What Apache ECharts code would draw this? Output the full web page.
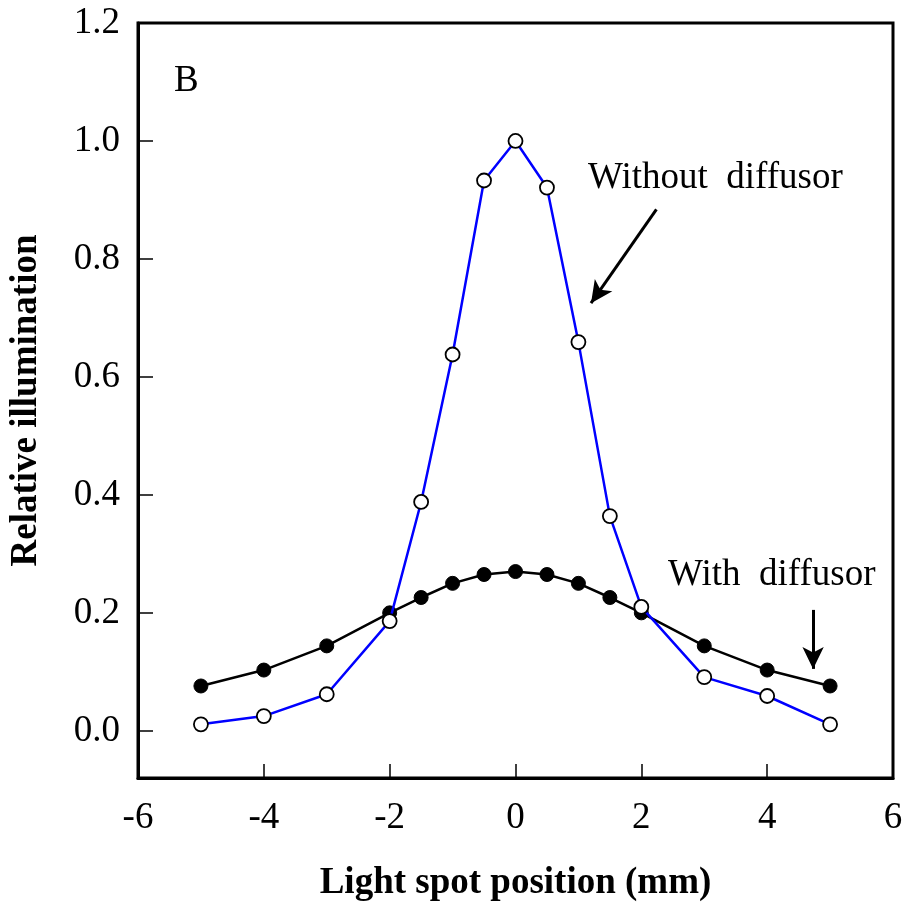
<!DOCTYPE html>
<html><head><meta charset="utf-8">
<script src="https://cdn.jsdelivr.net/npm/echarts@6/dist/echarts.min.js"></script>
<style>html,body{margin:0;padding:0;background:#fff}#c{width:908px;height:909px}</style>
</head><body><div id="c"></div>
<script>
const positions = [-5, -4, -3, -2, -1.5, -1, -0.5, 0, 0.5, 1, 1.5, 2, 3, 4, 5];
const withoutDiffusor = [0.011, 0.025, 0.062, 0.186, 0.388, 0.638, 0.933, 1.0, 0.921, 0.659, 0.364, 0.21, 0.091, 0.059, 0.011];
const withDiffusor = [0.076, 0.103, 0.144, 0.2, 0.226, 0.25, 0.265, 0.27, 0.265, 0.25, 0.226, 0.2, 0.144, 0.103, 0.076];
const yTicks = [0, 0.2, 0.4, 0.6, 0.8, 1.0, 1.2];
const xTitle = 'Light spot position (mm)';
const yTitle = 'Relative illumination';

const font = '"Liberation Serif", "Times New Roman", serif';
const chart = echarts.init(document.getElementById('c'));
const pair = (xs, ys) => xs.map((x, i) => [x, ys[i]]);

chart.setOption({
  animation: false,
  backgroundColor: '#fff',
  grid: { left: 135, right: 15, top: 23, bottom: 131, show: true, borderColor: '#000', borderWidth: 3 },
  xAxis: {
    type: 'value', min: -6, max: 6, interval: 2,
    name: xTitle, nameLocation: 'middle', nameGap: 87,
    nameTextStyle: { fontFamily: font, fontSize: 37, fontWeight: 'bold', color: '#000' },
    axisLine: { onZero: false, lineStyle: { color: '#000', width: 3 } },
    axisTick: { inside: true, length: 14, lineStyle: { color: '#000', width: 1.5 } },
    axisLabel: { fontFamily: font, fontSize: 37, color: '#000', margin: 22 },
    splitLine: { show: false }
  },
  yAxis: {
    type: 'value', min: -0.08, max: 1.2,
    name: yTitle, nameLocation: 'middle', nameGap: 93,
    nameTextStyle: { fontFamily: font, fontSize: 37, fontWeight: 'bold', color: '#000' },
    axisLine: { onZero: false, lineStyle: { color: '#000', width: 3 } },
    axisTick: { inside: true, length: 15, customValues: yTicks, lineStyle: { color: '#000', width: 1.5 } },
    axisLabel: { fontFamily: font, fontSize: 37, color: '#000', margin: 18, customValues: yTicks,
      formatter: v => v.toFixed(1) },
    splitLine: { show: false }
  },
  series: [
    {
      type: 'line', data: pair(positions, withDiffusor),
      symbol: 'circle', symbolSize: 14,
      lineStyle: { color: '#000', width: 2.5 },
      itemStyle: { color: '#000', borderColor: '#000', borderWidth: 1 },
      z: 2,
      markLine: {
        silent: true, symbol: ['none', 'arrow'], symbolSize: [16, 22],
        label: { show: false },
        lineStyle: { color: '#000', width: 3, type: 'solid' },
        data: [
          [{ coord: [2.24, 0.884] }, { coord: [1.2, 0.725] }],
          [{ coord: [4.73, 0.205] }, { coord: [4.73, 0.105] }]
        ]
      }
    },
    {
      type: 'line', data: pair(positions, withoutDiffusor),
      symbol: 'circle', symbolSize: 14,
      lineStyle: { color: '#0000ff', width: 2.5 },
      itemStyle: { color: '#fff', borderColor: '#000', borderWidth: 1.8 },
      z: 3
    }
  ],
  graphic: [
    { type: 'text', x: 174, y: 81.5, style: { text: 'B', fontFamily: font, fontSize: 37, fill: '#000', verticalAlign: 'middle' } },
    { type: 'text', x: 588, y: 178.5, style: { text: 'Without  diffusor', fontFamily: font, fontSize: 37, fill: '#000', verticalAlign: 'middle' } },
    { type: 'text', x: 668, y: 575, style: { text: 'With  diffusor', fontFamily: font, fontSize: 37, fill: '#000', verticalAlign: 'middle' } }
  ]
});
</script></body></html>
